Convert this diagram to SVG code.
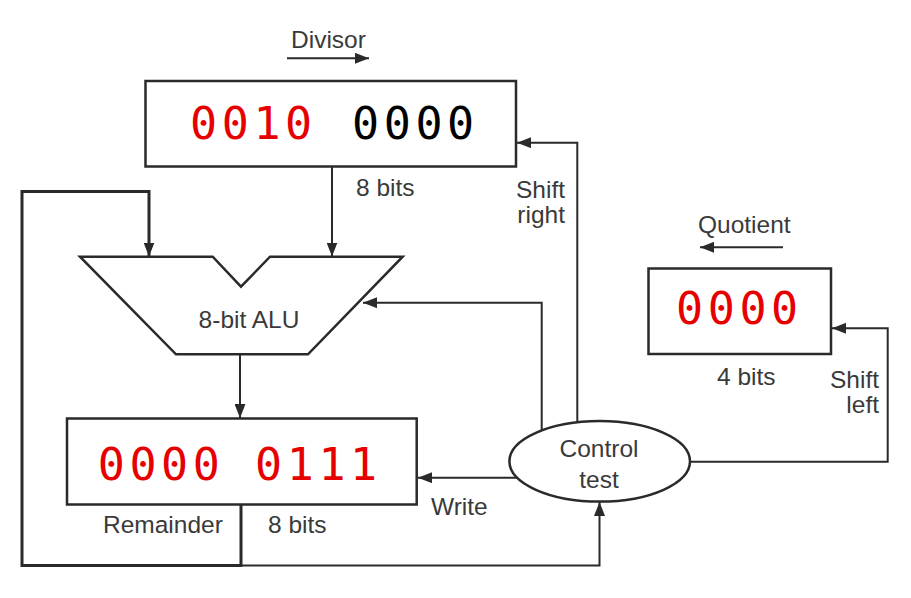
<svg xmlns="http://www.w3.org/2000/svg" width="911" height="598" viewBox="0 0 911 598">
<style>
.box{fill:#fff;stroke:#2a2a2a;stroke-width:2.5}
.ln{fill:none;stroke:#2a2a2a;stroke-width:2}
.thick{fill:none;stroke:#2a2a2a;stroke-width:3}
.lbl{font-family:"Liberation Sans",Arial,sans-serif;font-size:24.5px;fill:#3a3a3a}
.dig{font-family:"DejaVu Sans Mono",monospace;font-size:45px;letter-spacing:4.6px}
.red{fill:#e60000}
.blk{fill:#000}
</style>
<defs>
<marker id="ah" markerUnits="userSpaceOnUse" markerWidth="14" markerHeight="11" refX="14" refY="5.5" orient="auto">
<path d="M0,0 L14,5.5 L0,11 z" fill="#2a2a2a"/>
</marker>
</defs>
<rect width="911" height="598" fill="#fff"/>
<g id="connectors">
<path class="ln" d="M332,167 V256.5" marker-end="url(#ah)"/>
<path class="thick" d="M241,505 V565.5 H22 V191.5 H149 V256.5" marker-end="url(#ah)"/>
<path class="ln" d="M241,565.5 H599.5 V502" marker-end="url(#ah)"/>
<path class="ln" d="M240,355 V418" marker-end="url(#ah)"/>
<path class="ln" d="M577.3,422 V142.7 H517" marker-end="url(#ah)"/>
<path class="ln" d="M541.7,430.5 V302.7 H363" marker-end="url(#ah)"/>
<path class="ln" d="M517.5,477.7 H418" marker-end="url(#ah)"/>
<path class="ln" d="M690,461.7 H887.7 V328.3 H832" marker-end="url(#ah)"/>
<path class="ln" d="M287,58.3 H369" marker-end="url(#ah)"/>
<path class="ln" d="M783,247.3 H700" marker-end="url(#ah)"/>
</g>
<g id="divisor">
<rect class="box" x="145.5" y="81" width="370.5" height="85.5"/>
<text class="dig red" x="190" y="139.3">0010</text>
<text class="dig blk" x="352" y="139.3">0000</text>
<text class="lbl" x="291" y="48.3">Divisor</text>
<text class="lbl" x="356" y="196">8 bits</text>
<text class="lbl" x="565" y="198" text-anchor="end">Shift</text>
<text class="lbl" x="565" y="223" text-anchor="end">right</text>
</g>
<g id="alu">
<path class="box" d="M80,256.7 H212.7 L241,286.7 L270,256.7 H402.7 L308,354.3 H176 Z"/>
<text class="lbl" x="249" y="328.3" text-anchor="middle">8-bit ALU</text>
</g>
<g id="remainder">
<rect class="box" x="67" y="418.5" width="349.7" height="86"/>
<text class="dig red" x="97.7" y="480">0000</text>
<text class="dig red" x="255" y="480">0111</text>
<text class="lbl" x="103" y="532.7">Remainder</text>
<text class="lbl" x="268" y="533">8 bits</text>
</g>
<g id="quotient">
<rect class="box" x="648.5" y="268.5" width="182.5" height="85.5"/>
<text class="dig red" x="676" y="324">0000</text>
<text class="lbl" x="698" y="233.3">Quotient</text>
<text class="lbl" x="717" y="385">4 bits</text>
<text class="lbl" x="879" y="388.3" text-anchor="end">Shift</text>
<text class="lbl" x="879" y="413" text-anchor="end">left</text>
</g>
<g id="control">
<ellipse class="box" cx="599.7" cy="461.3" rx="90.3" ry="40.3"/>
<text class="lbl" x="599" y="457" text-anchor="middle">Control</text>
<text class="lbl" x="599" y="488" text-anchor="middle">test</text>
</g>
<g id="write-label">
<text class="lbl" x="431" y="515">Write</text>
</g>
</svg>
